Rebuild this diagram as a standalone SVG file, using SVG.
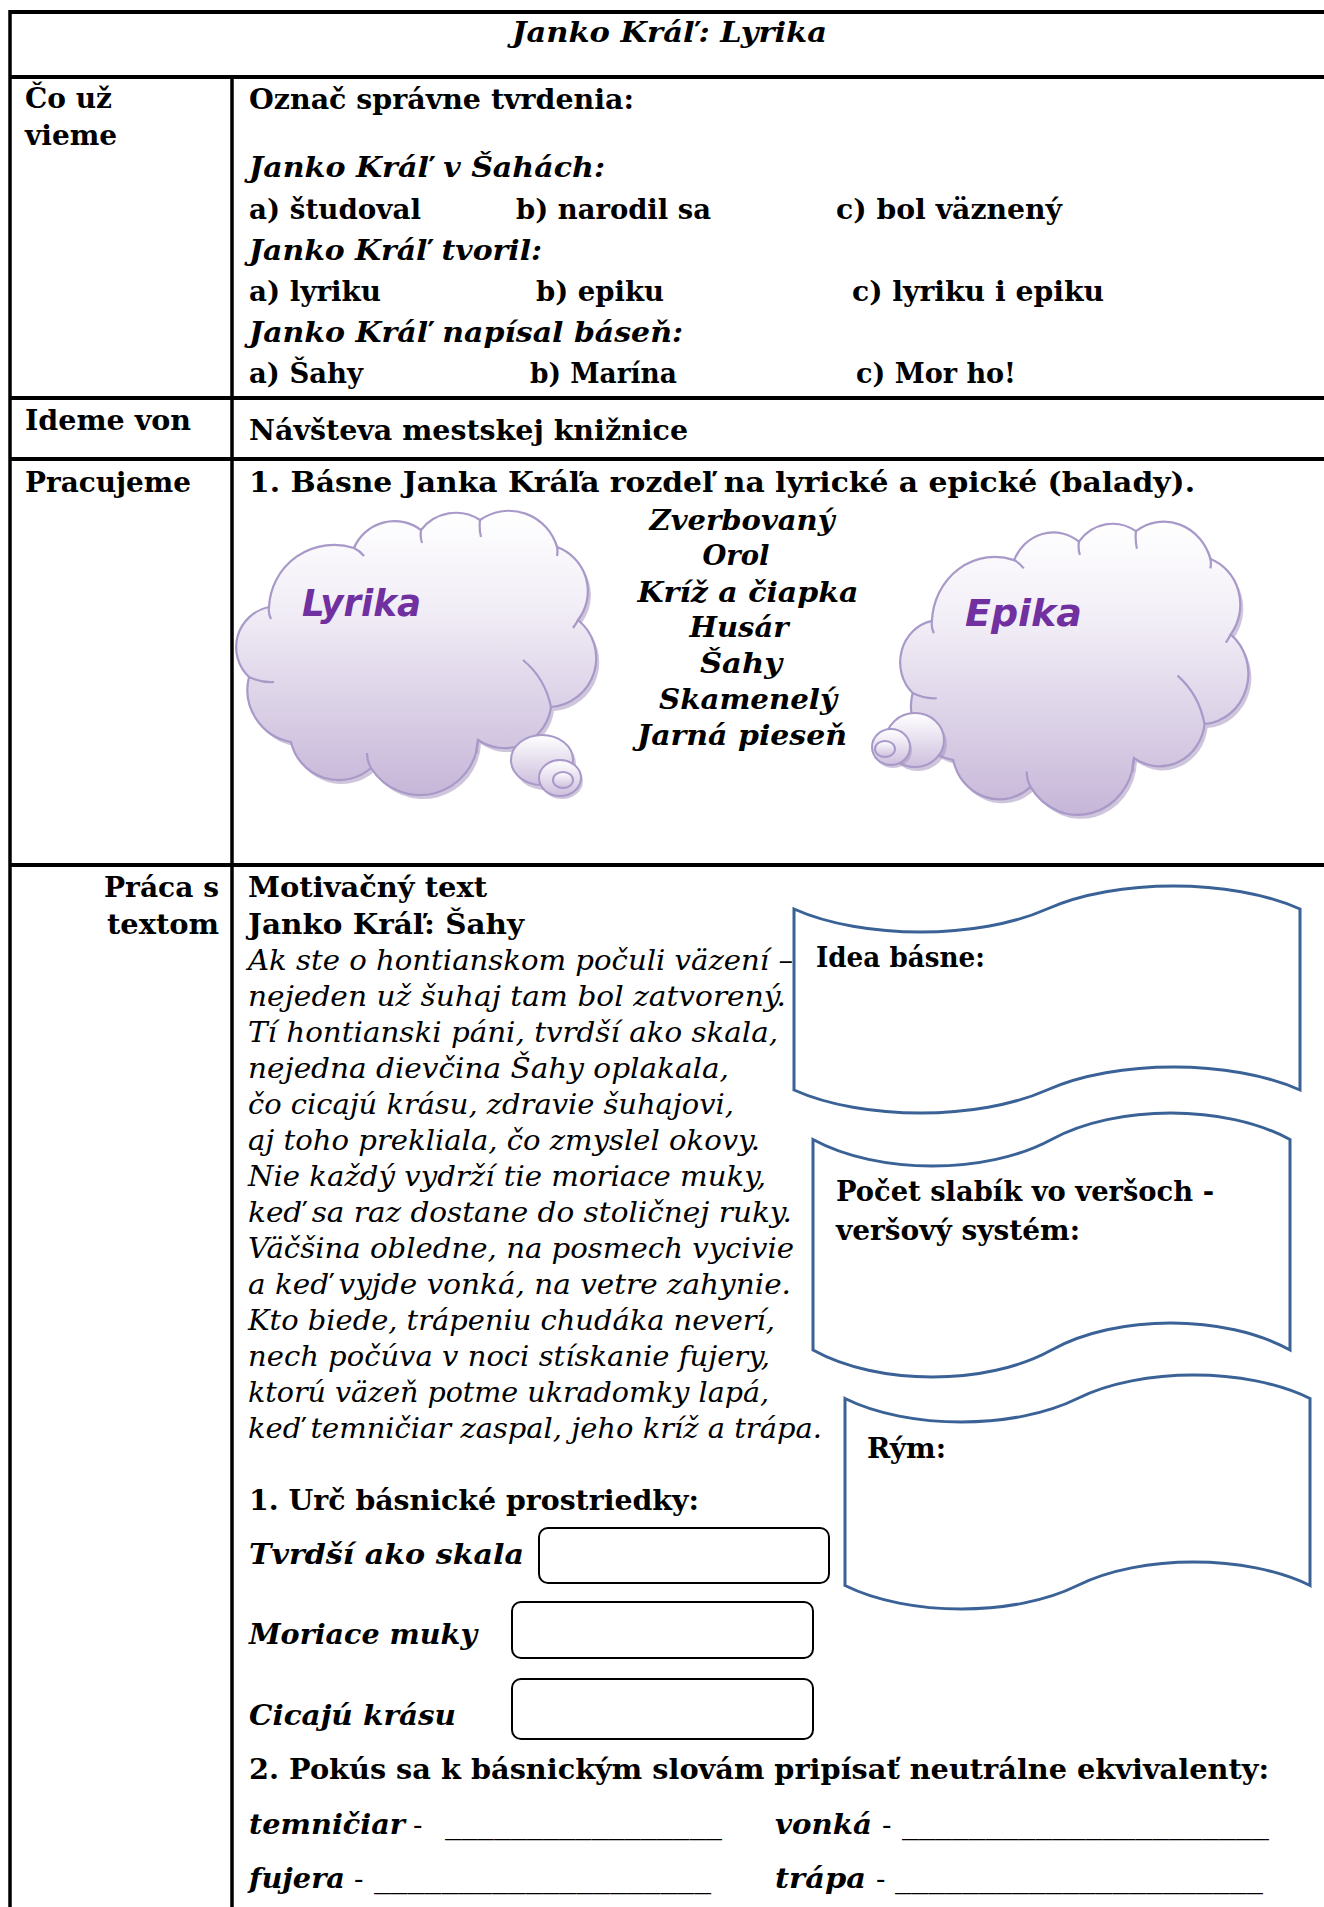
<svg xmlns="http://www.w3.org/2000/svg" xmlns:xlink="http://www.w3.org/1999/xlink" width="1324" height="1907" viewBox="0 0 1324 1907">
<style>
text{font-family:"DejaVu Serif","Liberation Serif",serif;fill:#000}
.b{font-weight:bold;font-size:28px}
.bi{font-weight:bold;font-style:italic;font-size:28px}
.i{font-style:italic;font-size:27px}
.r{font-size:28px}
.cl{font-family:"DejaVu Sans","Liberation Sans",sans-serif;font-weight:bold;font-style:italic;font-size:38px;fill:#7030a0}
.tl{stroke:#000;stroke-width:4;fill:none}
.tv{stroke:#000;stroke-width:3.5;fill:none}
.ban{fill:#fff;stroke:#3a6296;stroke-width:3}
.box{fill:#fff;stroke:#000;stroke-width:2}
.cloud{fill:url(#cg);stroke:#a899c9;stroke-width:2.2}
.cshadow{fill:#a797bf;opacity:0.55}
.inner{fill:none;stroke:#a899c9;stroke-width:2.2}
.bub{fill:url(#bg);stroke:#a899c9;stroke-width:2}
</style>
<defs>
<linearGradient id="cg" x1="0" y1="0" x2="0" y2="1">
<stop offset="0" stop-color="#ffffff"/>
<stop offset="0.35" stop-color="#f1edf6"/>
<stop offset="1" stop-color="#c6b6d8"/>
</linearGradient>
<linearGradient id="bg" x1="0" y1="0" x2="0" y2="1">
<stop offset="0" stop-color="#ffffff"/>
<stop offset="1" stop-color="#cdbfdd"/>
</linearGradient>
<path id="cloudPath" vector-effect="non-scaling-stroke" d="M269 607 A65 65 0 0 1 354 548 A44 44 0 0 1 421 530 A44 44 0 0 1 480 520 A50 50 0 0 1 557 547 A47 47 0 0 1 578 620 A49 49 0 0 1 551 707 A47 47 0 0 1 478 740 A58 58 0 0 1 371 768 A49 49 0 0 1 291 742 A53 53 0 0 1 249 677 A41 41 0 0 1 269 607 Z"/>
<path id="cloudInner" vector-effect="non-scaling-stroke" d="M269 607 Q268 613 271 619 M354 548 Q360 551 364 556 M421 530 Q420 537 422 543 M480 520 Q479 529 481 537 M557 547 Q558 551 557 556 M578 620 Q576 624 573 628 M523 660 Q545 678 551 707 M478 740 Q476 747 477 753 M371 768 Q367 761 367 753 M249 677 Q262 683 274 682"/>
</defs>

<g id="table">
<line class="tl" x1="10" y1="12" x2="1324" y2="12"/>
<line class="tl" x1="10" y1="77" x2="1324" y2="77"/>
<line class="tl" x1="10" y1="398" x2="1324" y2="398"/>
<line class="tl" x1="10" y1="459" x2="1324" y2="459"/>
<line class="tl" x1="10" y1="865" x2="1324" y2="865"/>
<line class="tv" x1="10" y1="10" x2="10" y2="1907"/>
<line class="tv" x1="232" y1="77" x2="232" y2="1907"/>
</g>

<g id="title">
<text class="bi" x="512" y="42" textLength="315" lengthAdjust="spacingAndGlyphs">Janko Kráľ: Lyrika</text>
</g>

<g id="row-co-uz-vieme">
<text class="b" x="25" y="108">Čo už</text>
<text class="b" x="25" y="145">vieme</text>
<text class="b" x="249" y="109" textLength="385" lengthAdjust="spacingAndGlyphs">Označ správne tvrdenia:</text>
<text class="bi" x="249" y="177" textLength="356" lengthAdjust="spacingAndGlyphs">Janko Kráľ v Šahách:</text>
<text class="b" x="249" y="219" textLength="172" lengthAdjust="spacingAndGlyphs">a) študoval</text>
<text class="b" x="516" y="219" textLength="195" lengthAdjust="spacingAndGlyphs">b) narodil sa</text>
<text class="b" x="836" y="219" textLength="226" lengthAdjust="spacingAndGlyphs">c) bol väznený</text>
<text class="bi" x="249" y="260" textLength="293" lengthAdjust="spacingAndGlyphs">Janko Kráľ tvoril:</text>
<text class="b" x="249" y="301" textLength="132" lengthAdjust="spacingAndGlyphs">a) lyriku</text>
<text class="b" x="536" y="301" textLength="128" lengthAdjust="spacingAndGlyphs">b) epiku</text>
<text class="b" x="852" y="301" textLength="252" lengthAdjust="spacingAndGlyphs">c) lyriku i epiku</text>
<text class="bi" x="249" y="342" textLength="434" lengthAdjust="spacingAndGlyphs">Janko Kráľ napísal báseň:</text>
<text class="b" x="249" y="383" textLength="114" lengthAdjust="spacingAndGlyphs">a) Šahy</text>
<text class="b" x="530" y="383" textLength="147" lengthAdjust="spacingAndGlyphs">b) Marína</text>
<text class="b" x="856" y="383" textLength="160" lengthAdjust="spacingAndGlyphs">c) Mor ho!</text>
</g>

<g id="row-ideme-von">
<text class="b" x="25" y="430" textLength="166" lengthAdjust="spacingAndGlyphs">Ideme von</text>
<text class="b" x="249" y="440" textLength="439" lengthAdjust="spacingAndGlyphs">Návšteva mestskej knižnice</text>
</g>

<g id="row-pracujeme">
<text class="b" x="25" y="492" textLength="166" lengthAdjust="spacingAndGlyphs">Pracujeme</text>
<text class="b" x="249" y="492" textLength="946" lengthAdjust="spacingAndGlyphs">1. Básne Janka Kráľa rozdeľ na lyrické a epické (balady).</text>
</g>

<g id="cloud-lyrika">
<use xlink:href="#cloudPath" href="#cloudPath" class="cshadow" transform="translate(3,4)"/>
<use xlink:href="#cloudPath" href="#cloudPath" class="cloud"/>
<use xlink:href="#cloudInner" href="#cloudInner" class="inner"/>
<ellipse class="cshadow" cx="545" cy="764" rx="31" ry="26"/>
<ellipse class="bub" cx="542" cy="760" rx="31" ry="25"/>
<ellipse class="cshadow" cx="562" cy="781" rx="21" ry="18"/>
<ellipse class="bub" cx="560" cy="778" rx="21" ry="18"/>
<ellipse class="bub" cx="563" cy="780" rx="10" ry="8"/>
<text class="cl" x="302" y="616" textLength="119" lengthAdjust="spacingAndGlyphs">Lyrika</text>
</g>

<g id="cloud-epika">
<use xlink:href="#cloudPath" href="#cloudPath" class="cshadow" transform="matrix(0.967 0 0 1.031 674.8 -0.9)"/>
<use xlink:href="#cloudPath" href="#cloudPath" class="cloud" transform="matrix(0.967 0 0 1.031 671.8 -4.9)"/>
<use xlink:href="#cloudInner" href="#cloudInner" class="inner" transform="matrix(0.967 0 0 1.031 671.8 -4.9)"/>
<ellipse class="cshadow" cx="918" cy="744" rx="29" ry="27"/>
<ellipse class="bub" cx="915" cy="740" rx="29" ry="27"/>
<ellipse class="cshadow" cx="893" cy="750" rx="19" ry="18"/>
<ellipse class="bub" cx="891" cy="747" rx="19" ry="18"/>
<ellipse class="bub" cx="885" cy="749" rx="10" ry="8"/>
<text class="cl" x="965" y="626" textLength="117" lengthAdjust="spacingAndGlyphs">Epika</text>
</g>

<g id="poem-list">
<text class="bi" x="742" y="530" text-anchor="middle" textLength="185" lengthAdjust="spacingAndGlyphs">Zverbovaný</text>
<text class="bi" x="736" y="565" text-anchor="middle" textLength="67" lengthAdjust="spacingAndGlyphs">Orol</text>
<text class="bi" x="748" y="602" text-anchor="middle" textLength="221" lengthAdjust="spacingAndGlyphs">Kríž a čiapka</text>
<text class="bi" x="739" y="637" text-anchor="middle" textLength="99" lengthAdjust="spacingAndGlyphs">Husár</text>
<text class="bi" x="741" y="673" text-anchor="middle" textLength="82" lengthAdjust="spacingAndGlyphs">Šahy</text>
<text class="bi" x="748" y="709" text-anchor="middle" textLength="178" lengthAdjust="spacingAndGlyphs">Skamenelý</text>
<text class="bi" x="742" y="745" text-anchor="middle" textLength="210" lengthAdjust="spacingAndGlyphs">Jarná pieseň</text>
</g>

<g id="row-praca-s-textom">
<text class="b" x="219" y="897" text-anchor="end" textLength="115" lengthAdjust="spacingAndGlyphs">Práca s</text>
<text class="b" x="219" y="934" text-anchor="end" textLength="112" lengthAdjust="spacingAndGlyphs">textom</text>
<text class="b" x="248" y="897" textLength="239" lengthAdjust="spacingAndGlyphs">Motivačný text</text>
<text class="b" x="248" y="934" textLength="276" lengthAdjust="spacingAndGlyphs">Janko Kráľ: Šahy</text>
</g>

<g id="poem">
<text class="i" x="248" y="970" textLength="545" lengthAdjust="spacingAndGlyphs">Ak ste o hontianskom počuli väzení –</text>
<text class="i" x="248" y="1006" textLength="538" lengthAdjust="spacingAndGlyphs">nejeden už šuhaj tam bol zatvorený.</text>
<text class="i" x="248" y="1042" textLength="530" lengthAdjust="spacingAndGlyphs">Tí hontianski páni, tvrdší ako skala,</text>
<text class="i" x="248" y="1078" textLength="481" lengthAdjust="spacingAndGlyphs">nejedna dievčina Šahy oplakala,</text>
<text class="i" x="248" y="1114" textLength="486" lengthAdjust="spacingAndGlyphs">čo cicajú krásu, zdravie šuhajovi,</text>
<text class="i" x="248" y="1150" textLength="512" lengthAdjust="spacingAndGlyphs">aj toho prekliala, čo zmyslel okovy.</text>
<text class="i" x="248" y="1186" textLength="518" lengthAdjust="spacingAndGlyphs">Nie každý vydrží tie moriace muky,</text>
<text class="i" x="248" y="1222" textLength="544" lengthAdjust="spacingAndGlyphs">keď sa raz dostane do stoličnej ruky.</text>
<text class="i" x="248" y="1258" textLength="546" lengthAdjust="spacingAndGlyphs">Väčšina obledne, na posmech vycivie</text>
<text class="i" x="248" y="1294" textLength="543" lengthAdjust="spacingAndGlyphs">a keď vyjde vonká, na vetre zahynie.</text>
<text class="i" x="248" y="1330" textLength="527" lengthAdjust="spacingAndGlyphs">Kto biede, trápeniu chudáka neverí,</text>
<text class="i" x="248" y="1366" textLength="522" lengthAdjust="spacingAndGlyphs">nech počúva v noci stískanie fujery,</text>
<text class="i" x="248" y="1402" textLength="521" lengthAdjust="spacingAndGlyphs">ktorú väzeň potme ukradomky lapá,</text>
<text class="i" x="248" y="1438" textLength="574" lengthAdjust="spacingAndGlyphs">keď temničiar zaspal, jeho kríž a trápa.</text>
</g>

<g id="banner-idea">
<path class="ban" d="M794 909 C862.8 939.7 978.2 939.7 1047 909 C1115.8 878.3 1231.2 878.3 1300 909 L1300 1090 C1231.2 1059.3 1115.8 1059.3 1047 1090 C978.2 1120.7 862.8 1120.7 794 1090 Z"/>
<text class="b" x="816" y="967" textLength="169" lengthAdjust="spacingAndGlyphs">Idea básne:</text>
</g>

<g id="banner-pocet">
<path class="ban" d="M813 1139.5 C877.9 1174.8 986.6 1174.8 1051.5 1139.5 C1116.4 1104.2 1225.1 1104.2 1290 1139.5 L1290 1350 C1225.1 1314 1116.4 1314 1051.5 1350 C986.6 1386 877.9 1386 813 1350 Z"/>
<text class="b" x="836" y="1201" textLength="378" lengthAdjust="spacingAndGlyphs">Počet slabík vo veršoch -</text>
<text class="b" x="836" y="1240" textLength="244" lengthAdjust="spacingAndGlyphs">veršový systém:</text>
</g>

<g id="banner-rym">
<path class="ban" d="M845 1398.5 C908.2 1429.8 1014.3 1429.8 1077.5 1398.5 C1140.7 1367.2 1246.8 1367.2 1310 1398.5 L1310 1585.5 C1246.8 1554.2 1140.7 1554.2 1077.5 1585.5 C1014.3 1616.8 908.2 1616.8 845 1585.5 Z"/>
<text class="b" x="867" y="1458" textLength="79" lengthAdjust="spacingAndGlyphs">Rým:</text>
</g>

<g id="task-1">
<text class="b" x="249" y="1510" textLength="450" lengthAdjust="spacingAndGlyphs">1. Urč básnické prostriedky:</text>
<text class="bi" x="249" y="1564" textLength="275" lengthAdjust="spacingAndGlyphs">Tvrdší ako skala</text>
<rect class="box" x="539" y="1528" width="290" height="55" rx="9"/>
<text class="bi" x="249" y="1644" textLength="228" lengthAdjust="spacingAndGlyphs">Moriace muky</text>
<rect class="box" x="512" y="1602" width="301" height="56" rx="9"/>
<text class="bi" x="249" y="1725" textLength="207" lengthAdjust="spacingAndGlyphs">Cicajú krásu</text>
<rect class="box" x="512" y="1679" width="301" height="60" rx="9"/>
</g>

<g id="task-2">
<text class="b" x="249" y="1779" textLength="1020" lengthAdjust="spacingAndGlyphs">2. Pokús sa k básnickým slovám pripísať neutrálne ekvivalenty:</text>
<text class="bi" x="249" y="1834" textLength="156" lengthAdjust="spacingAndGlyphs">temničiar</text>
<text class="r" x="413" y="1834">-</text>
<text class="r" x="445" y="1834" textLength="277" lengthAdjust="spacingAndGlyphs">_________________</text>
<text class="bi" x="775" y="1834" textLength="97" lengthAdjust="spacingAndGlyphs">vonká</text>
<text class="r" x="882" y="1834">-</text>
<text class="r" x="902" y="1834" textLength="367" lengthAdjust="spacingAndGlyphs">______________________</text>
<text class="bi" x="249" y="1888" textLength="96" lengthAdjust="spacingAndGlyphs">fujera</text>
<text class="r" x="354" y="1888">-</text>
<text class="r" x="374" y="1888" textLength="337" lengthAdjust="spacingAndGlyphs">____________________</text>
<text class="bi" x="775" y="1888" textLength="91" lengthAdjust="spacingAndGlyphs">trápa</text>
<text class="r" x="876" y="1888">-</text>
<text class="r" x="895" y="1888" textLength="368" lengthAdjust="spacingAndGlyphs">______________________</text>
</g>
</svg>
